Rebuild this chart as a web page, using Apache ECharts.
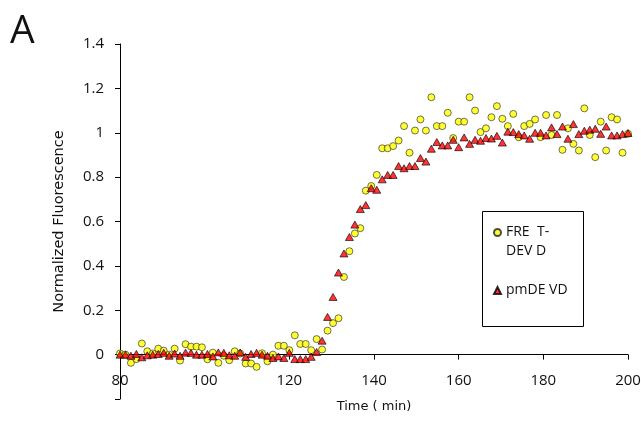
<!DOCTYPE html>
<html>
<head>
<meta charset="utf-8">
<script src="https://cdn.jsdelivr.net/npm/echarts@6/dist/echarts.min.js"></script>
<style>
html,body{margin:0;padding:0;background:#fff;}
#chart{width:641px;height:441px;}
</style>
</head>
<body>
<div id="chart"></div>
<script>
// Time (min)
var times = [80.00,81.29,82.58,83.87,85.16,86.45,87.74,89.03,90.32,91.61,
  92.90,94.19,95.48,96.77,98.06,99.35,100.65,101.94,103.23,104.52,
  105.81,107.10,108.39,109.68,110.97,112.26,113.55,114.84,116.13,117.42,
  118.71,120.00,121.29,122.58,123.87,125.16,126.45,127.74,129.03,130.32,
  131.61,132.90,134.19,135.48,136.77,138.06,139.35,140.65,141.94,143.23,
  144.52,145.81,147.10,148.39,149.68,150.97,152.26,153.55,154.84,156.13,
  157.42,158.71,160.00,161.29,162.58,163.87,165.16,166.45,167.74,169.03,
  170.32,171.61,172.90,174.19,175.48,176.77,178.06,179.35,180.65,181.94,
  183.23,184.52,185.81,187.10,188.39,189.68,190.97,192.26,193.55,194.84,
  196.13,197.42,198.71,200.00];

// FRET-DEVD (yellow circles)
var fretDevd = [0.005,0.0,-0.037,-0.02,0.05,0.015,0.005,0.027,0.018,0.0,
  0.027,-0.027,0.047,0.036,0.036,0.033,-0.021,0.009,-0.037,-0.005,
  -0.025,0.015,0.005,-0.04,-0.04,-0.055,0.006,-0.03,0.0,0.04,
  0.04,0.02,0.087,0.048,0.048,0.02,0.07,0.023,0.108,0.142,
  0.164,0.35,0.466,0.546,0.57,0.739,0.76,0.81,0.93,0.93,
  0.94,0.965,1.03,0.91,1.01,1.06,1.01,1.16,1.03,1.03,
  1.09,0.976,1.05,1.05,1.16,1.1,1.003,1.02,1.07,1.12,
  1.063,1.03,1.085,0.98,1.03,1.04,1.06,0.98,1.08,0.99,
  1.08,0.923,1.02,0.95,0.92,1.11,0.99,0.89,1.05,0.92,
  1.07,1.06,0.91,0.995];

// pmDEVD (red triangles)
var pmDevd = [0,0,-0.005,0.003,-0.012,-0.003,0,0.003,0.008,-0.005,
  0.005,-0.005,0.009,0.008,0,0,0.003,-0.008,0.01,0.008,
  -0.003,-0.005,0.01,-0.01,0.003,0.008,0,-0.005,-0.015,-0.008,
  -0.015,0.008,-0.02,-0.02,-0.02,-0.01,0.012,0.063,0.17,0.26,
  0.37,0.456,0.53,0.586,0.656,0.674,0.75,0.743,0.79,0.81,
  0.81,0.85,0.84,0.85,0.85,0.886,0.87,0.928,0.958,0.943,
  0.943,0.968,0.935,0.979,0.95,0.968,0.964,0.976,0.974,0.986,
  0.956,1.005,1.003,0.994,0.988,0.973,1.0,1.0,0.988,1.024,
  0.994,1.028,0.973,1.039,0.994,1.009,1.014,1.018,0.995,1.028,
  0.988,0.988,0.994,0.999];

var seriesNames = ['FRET-DEVD', 'pmDEVD'];
var legendLabels = [' \nFRE  T-\nDEV D', 'pmDE VD'];
var xTicks = {min: 80, max: 200, step: 20};
var yTicks = {min: -0.2, max: 1.4, step: 0.2};

function pairs(ys) {
  return ys.map(function (v, i) { return [times[i], v]; });
}

var FONT = '"Open Sans", "Noto Sans", sans-serif';
var chart = echarts.init(document.getElementById('chart'), null, {renderer: 'canvas'});
chart.setOption({
  backgroundColor: '#fff',
  animation: false,
  grid: {left: 120, right: 13, top: 44, bottom: 42, outerBoundsMode: 'none', containLabel: false},
  graphic: [
    {type: 'text', left: 10, top: 12, z: 10,
     style: {text: 'A', fontSize: 39, fontFamily: FONT, fill: '#111'}},
    {type: 'rect', z: 1, left: 482, top: 211,
     shape: {width: 101, height: 115},
     style: {fill: '#fff', stroke: '#000', lineWidth: 1}}
  ],
  legend: {
    orient: 'vertical',
    left: 488, top: 199,
    itemWidth: 7, itemHeight: 7,
    itemGap: 20,
    z: 10,
    data: seriesNames,
    formatter: function (name) { return legendLabels[seriesNames.indexOf(name)]; },
    textStyle: {fontSize: 14, fontFamily: FONT, color: '#111', lineHeight: 19}
  },
  xAxis: {
    type: 'value',
    position: 'bottom',
    offset: -44.4,
    min: xTicks.min, max: xTicks.max, interval: xTicks.step,
    name: 'Time ( min)', nameLocation: 'middle', nameGap: 46,
    nameTextStyle: {fontSize: 13, fontFamily: '"DejaVu Sans", sans-serif', color: '#111'},
    axisLine: {onZero: false, lineStyle: {color: '#000', width: 1}},
    axisTick: {show: true, inside: false, length: 5, lineStyle: {color: '#000'}},
    axisLabel: {fontSize: 15, fontFamily: FONT, color: '#111', margin: 19},
    splitLine: {show: false}
  },
  yAxis: {
    type: 'value',
    min: yTicks.min, max: yTicks.max, interval: yTicks.step,
    name: 'Normalized Fluorescence', nameLocation: 'middle', nameGap: 53,
    nameTextStyle: {fontSize: 14.5, fontFamily: '"DejaVu Sans", sans-serif', color: '#111'},
    axisLine: {show: true, onZero: false, lineStyle: {color: '#000', width: 1}},
    axisTick: {show: true, inside: false, length: 5, lineStyle: {color: '#000'}},
    axisLabel: {
      fontSize: 15, fontFamily: FONT, color: '#111', margin: 16,
      formatter: function (v) { return v < -0.01 ? '' : String(+v.toFixed(1)); }
    },
    splitLine: {show: false}
  },
  series: [
    {
      name: seriesNames[0], type: 'scatter', symbol: 'circle', symbolSize: 7,
      itemStyle: {color: '#FFFF00', borderColor: '#222', borderWidth: 0.8},
      data: pairs(fretDevd)
    },
    {
      name: seriesNames[1], type: 'scatter', symbol: 'triangle', symbolSize: [8, 7],
      itemStyle: {color: '#FF0000', borderColor: '#000', borderWidth: 0.8},
      data: pairs(pmDevd)
    }
  ]
});
</script>
</body>
</html>
